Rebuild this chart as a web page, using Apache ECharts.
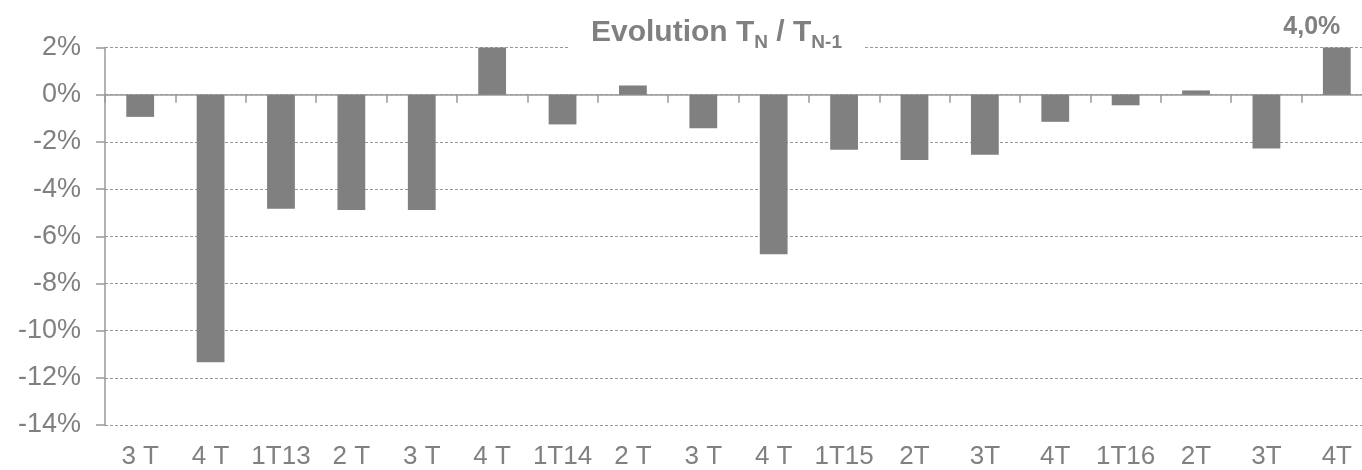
<!DOCTYPE html>
<html>
<head>
<meta charset="utf-8">
<script src="https://cdn.jsdelivr.net/npm/echarts@6/dist/echarts.min.js"></script>
<style>
html,body{margin:0;padding:0;background:#fff;overflow:hidden;}
#chart{width:1375px;height:470px;}
</style>
</head>
<body>
<div id="chart"></div>
<script>
var categories = ["3 T","4 T","1T13","2 T","3 T","4 T","1T14","2 T","3 T","4 T","1T15","2T","3T","4T","1T16","2T","3T","4T"];
var values = [-0.94,-11.34,-4.83,-4.89,-4.89,2.0,-1.26,0.39,-1.42,-6.76,-2.33,-2.77,-2.55,-1.15,-0.45,0.18,-2.28,4.0];
var yTicks = {min:-14, max:2, interval:2};
var labelIndex = 17;
var labelText = "4,0%";

var gray = '#808080';
var font = '"Liberation Sans", Arial, sans-serif';

var seriesData = values.map(function(v, i){
  if (i === labelIndex) {
    return {value: v, label: {show: true, position: 'top', formatter: labelText, distance: 8, offset: [-25, 0],
      fontSize: 25, fontWeight: 'bold', color: gray, fontFamily: font}};
  }
  return v;
});

var chart = echarts.init(document.getElementById('chart'), null, {renderer:'canvas'});
chart.setOption({
  animation: false,
  backgroundColor: '#fff',
  title: {
    text: '{a|Evolution T}{b|N}{a| / T}{b|N-1}',
    left: 570,
    top: 14,
    padding: [4, 21, 4, 21],
    backgroundColor: '#fff',
    textStyle: {
      rich: {
        a: {fontSize: 30, fontWeight: 'bold', color: gray, fontFamily: font, lineHeight: 34, verticalAlign: 'top'},
        b: {fontSize: 19, fontWeight: 'bold', color: gray, fontFamily: font, lineHeight: 24, verticalAlign: 'top', padding: [15, 0, 0, 0]}
      }
    }
  },
  grid: {left: 105, top: 47.5, height: 380.5, width: 1267, containLabel: false},
  xAxis: [{
    type: 'category',
    data: categories,
    position: 'bottom',
    axisLine: {show: false, onZero: false},
    axisTick: {show: false},
    axisLabel: {color: gray, fontSize: 26, fontFamily: font, margin: 19, interval: 0}
  }, {
    type: 'category',
    data: categories,
    position: 'top',
    axisLine: {show: true, onZero: true, lineStyle: {color: '#999', width: 1.5}},
    axisTick: {show: true, inside: true, length: 8, lineStyle: {color: '#999', width: 1.5}},
    axisLabel: {show: false}
  }],
  yAxis: {
    type: 'value',
    min: yTicks.min, max: yTicks.max, interval: yTicks.interval,
    axisLine: {show: true, lineStyle: {color: '#999', width: 1.5}},
    axisTick: {show: true, length: 9, lineStyle: {color: '#999', width: 1.5}},
    axisLabel: {color: gray, fontSize: 27, fontFamily: font, margin: 24, formatter: '{value}%'},
    splitLine: {show: true, lineStyle: {color: '#999', type: [3, 2], width: 1}}
  },
  series: [{
    type: 'bar',
    xAxisIndex: 0,
    data: seriesData,
    barWidth: '39.5%',
    itemStyle: {color: gray},
    clip: true
  }]
});
</script>
</body>
</html>
